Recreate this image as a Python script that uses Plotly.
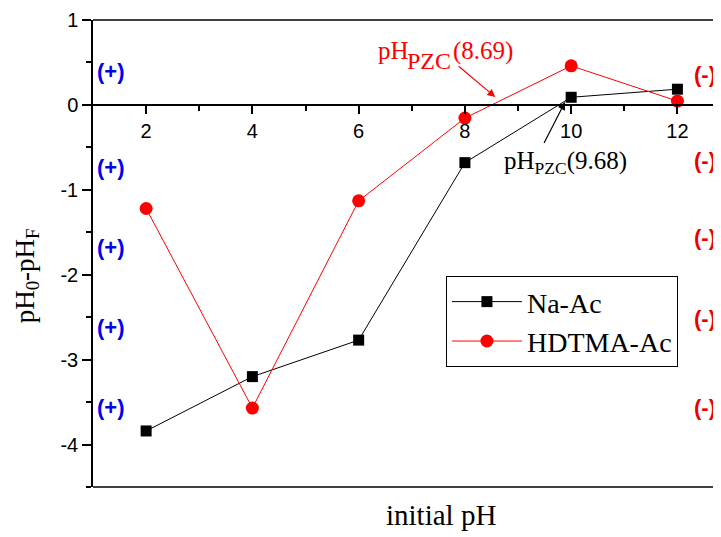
import plotly.graph_objects as go

ph_initial = [2, 4, 6, 8, 10, 12]
na_ac = [-3.84, -3.20, -2.77, -0.68, 0.09, 0.185]
hdtma_ac = [-1.22, -3.57, -1.13, -0.155, 0.46, 0.045]

y_tickvals = [1, 0, -1, -2, -3, -4]
y_ticktext = ["1", "0", "-1", "-2", "-3", "-4"]
x_tickvals = [2, 4, 6, 8, 10, 12]
x_ticktext = ["2", "4", "6", "8", "10", "12"]

plus_y = [0.39, -0.74, -1.68, -2.62, -3.56]
minus_y = [0.36, -0.66, -1.56, -2.51, -3.56]

pzc_hdtma = 8.69
pzc_na = 9.68

SERIF = "Liberation Serif, Times New Roman, serif"
SANS = "Liberation Sans, Arial, sans-serif"

fig = go.Figure()
fig.add_trace(go.Scatter(x=ph_initial, y=na_ac, mode="lines+markers", name="Na-Ac",
                         line=dict(color="black", width=1),
                         marker=dict(symbol="square", size=11, color="black")))
fig.add_trace(go.Scatter(x=ph_initial, y=hdtma_ac, mode="lines+markers", name="HDTMA-Ac",
                         line=dict(color="red", width=1),
                         marker=dict(symbol="circle", size=13, color="red")))

ymin, ymax = -4.5, 1.0
zero_pos = (0 - ymin) / (ymax - ymin)

fig.update_layout(
    width=713, height=529,
    margin=dict(l=85, r=0, t=12, b=49.5),
    paper_bgcolor="white", plot_bgcolor="white",
    showlegend=True,
    legend=dict(x=0.562, y=0.452, xanchor="left", yanchor="top",
                bordercolor="black", borderwidth=1, bgcolor="white",
                font=dict(family=SERIF, size=28, color="black"),
                itemwidth=70, tracegroupgap=0),
    xaxis=dict(range=[1, 12.82], anchor="free", position=zero_pos,
               showline=True, linecolor="black", linewidth=1.5,
               showgrid=False, zeroline=False,
               tickvals=x_tickvals, ticktext=x_ticktext,
               ticks="outside", ticklen=8, tickwidth=1.5, tickcolor="black",
               tickfont=dict(family=SANS, size=20, color="black"),
               minor=dict(tickvals=[3, 5, 7, 9, 11], ticks="outside", ticklen=5,
                          tickwidth=1.5, tickcolor="black", showgrid=False)),
    yaxis=dict(range=[ymin, ymax],
               showline=True, linecolor="black", linewidth=1.5,
               showgrid=False, zeroline=False,
               tickvals=y_tickvals, ticktext=y_ticktext,
               ticks="outside", ticklen=9, tickwidth=1.5, tickcolor="black",
               tickfont=dict(family=SANS, size=20, color="black"),
               minor=dict(tickvals=[0.5, -0.5, -1.5, -2.5, -3.5, -4.5], ticks="outside",
                          ticklen=5, tickwidth=1.5, tickcolor="black", showgrid=False)),
)

# frame: top and bottom borders
fig.add_shape(type="line", xref="paper", yref="paper", x0=0, x1=1, y0=1, y1=1,
              line=dict(color="black", width=1.5))
fig.add_shape(type="line", xref="paper", yref="paper", x0=0, x1=1, y0=0, y1=0,
              line=dict(color="black", width=1.5))

# axis titles
fig.add_annotation(text="initial pH", xref="paper", yref="paper", x=0.554, y=-0.059,
                   xanchor="center", yanchor="middle", showarrow=False,
                   font=dict(family=SERIF, size=29, color="black"))
fig.add_annotation(text="pH<sub>0</sub>-pH<sub>F</sub>", xref="paper", yref="paper",
                   x=-0.106, y=0.452, xanchor="center", yanchor="middle",
                   textangle=-90, showarrow=False,
                   font=dict(family=SERIF, size=27, color="black"))

# (+) and (-) labels
for yv in plus_y:
    fig.add_annotation(text="<b>(+)</b>", x=1.34, y=yv, xref="x", yref="y",
                       showarrow=False, font=dict(family=SANS, size=22, color="#0000ee"))
for yv in minus_y:
    fig.add_annotation(text="<b>(-)</b>", x=12.77, y=yv, xref="x", yref="y",
                       xanchor="right", showarrow=False,
                       font=dict(family=SANS, size=22, color="#ee0000"))

# pH_PZC (HDTMA-Ac) label, built from three pieces so "PZC" stays large
fig.add_annotation(text="pH", x=6.33, y=0.64, xref="x", yref="y", xanchor="left",
                   showarrow=False, font=dict(family=SERIF, size=25, color="red"))
fig.add_annotation(text="PZC", x=6.88, y=0.52, xref="x", yref="y", xanchor="left",
                   showarrow=False, font=dict(family=SERIF, size=24, color="red"))
fig.add_annotation(text="(%.2f)" % pzc_hdtma, x=7.73, y=0.64, xref="x", yref="y",
                   xanchor="left", showarrow=False,
                   font=dict(family=SERIF, size=25, color="red"))
fig.add_annotation(x=8.57, y=0.094, xref="x", yref="y", ax=-38, ay=-32,
                   showarrow=True, arrowhead=2, arrowsize=1.3, arrowwidth=1.2,
                   arrowcolor="red", text=" ", font=dict(size=1))

# pH_PZC (Na-Ac) label
fig.add_annotation(text="pH<sub>PZC</sub>(%.2f)" % pzc_na,
                   x=9.9, y=-0.68, xref="x", yref="y", showarrow=False,
                   font=dict(family=SERIF, size=25, color="black"))
fig.add_annotation(x=9.885, y=0.035, xref="x", yref="y", ax=-22, ay=43,
                   showarrow=True, arrowhead=2, arrowsize=1.3, arrowwidth=1.2,
                   arrowcolor="black", text=" ", font=dict(size=1))

fig.write_html("out.html")
